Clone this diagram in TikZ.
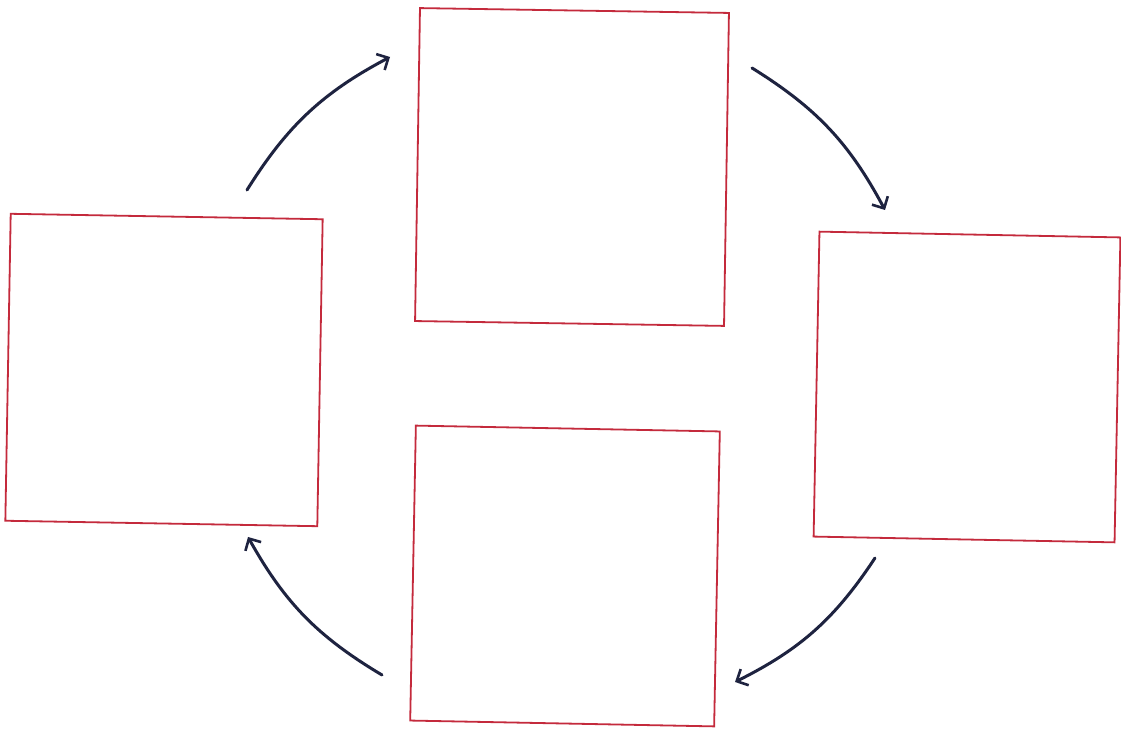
\documentclass[tikz,border=0pt]{standalone}
\usetikzlibrary{arrows.meta}
\definecolor{boxred}{HTML}{C42A3C}
\definecolor{navy}{HTML}{1E2340}
\tikzset{
  box/.style={draw=boxred, line width=1.8pt, inner sep=0pt, fill=white},
  cyc/.style={draw=navy, line width=3pt, line cap=round,
    -{Straight Barb[length=9pt,width=18pt,line width=2.6pt]}, bend left=15}
}
\begin{document}
\begin{tikzpicture}[x=1pt,y=1pt]
\useasboundingbox (0,0) rectangle (1121,731);
\fill[white] (0,0) rectangle (1121,731);
\node[box, minimum width=309pt, minimum height=313pt, rotate=-0.9] (top) at (572,564) {};
\node[box, minimum width=312pt, minimum height=307pt, rotate=-1.0] (left) at (164,361) {};
\node[box, minimum width=301pt, minimum height=305pt, rotate=-1.1] (right) at (967,344) {};
\node[box, minimum width=304pt, minimum height=295pt, rotate=-1.1] (bottom) at (565,155) {};
\coordinate (a1s) at (247,541);
\coordinate (a1e) at (390,674);
\coordinate (a2s) at (752,663);
\coordinate (a2e) at (885,521);
\coordinate (a3s) at (875,173);
\coordinate (a3e) at (735,49);
\coordinate (a4s) at (382,56);
\coordinate (a4e) at (248,194);
\draw[cyc] (a1s) to (a1e);
\draw[cyc] (a2s) to (a2e);
\draw[cyc] (a3s) to (a3e);
\draw[cyc] (a4s) to (a4e);
\end{tikzpicture}
\end{document}
